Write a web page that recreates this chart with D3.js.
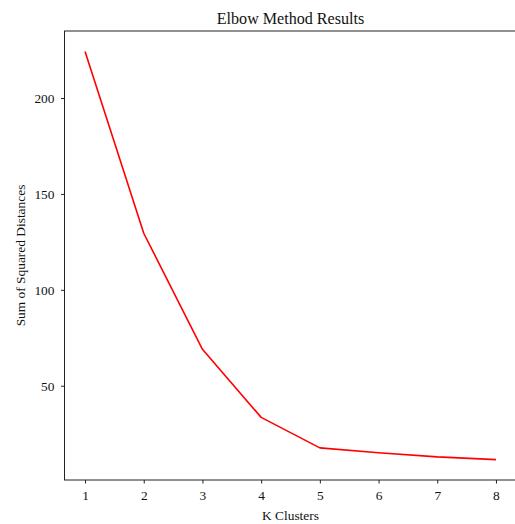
<!DOCTYPE html>
<html>
<head>
<meta charset="utf-8">
<script src="https://cdn.jsdelivr.net/npm/d3@7"></script>
<style>
  html, body { margin: 0; padding: 0; background: #fff; overflow: hidden; }
  svg { display: block; font-family: "Liberation Serif", "Times New Roman", serif; }
</style>
</head>
<body>
<svg id="chart" width="515" height="524"></svg>
<script>
const kValues = [1, 2, 3, 4, 5, 6, 7, 8];
const sseValues = [224.3, 129.5, 69.0, 33.5, 17.6, 15.1, 12.9, 11.5];
const xTickLabels = ["1", "2", "3", "4", "5", "6", "7", "8"];
const yTickValues = [50, 100, 150, 200];

const svg = d3.select("#chart");
const margin = { left: 64.5, top: 31, right: -1.5, bottom: 44 };
const W = 515, H = 524;
const x0 = margin.left, x1 = W - margin.right;
const y0 = margin.top, y1 = H - margin.bottom;

const dMin = d3.min(sseValues), dMax = d3.max(sseValues);
const pad = (dMax - dMin) * 0.05;
const x = d3.scaleLinear().domain([0.65, 8.35]).range([x0, x1]);
const y = d3.scaleLinear().domain([dMin - pad, dMax + pad]).range([y1, y0]);

// frame
svg.append("rect")
  .attr("x", x0).attr("y", y0)
  .attr("width", x1 - x0).attr("height", y1 - y0)
  .attr("fill", "none").attr("stroke", "#222").attr("stroke-width", 1);

// line
const line = d3.line().x((d, i) => x(kValues[i])).y(d => y(d));
svg.append("path")
  .datum(sseValues)
  .attr("d", line)
  .attr("fill", "none")
  .attr("stroke", "#ff0000")
  .attr("stroke-width", 1.6)
  .attr("stroke-linejoin", "round");

const tickFont = 13.4;

// axes
const xAxis = d3.axisBottom(x).tickValues(kValues)
  .tickFormat((d, i) => xTickLabels[i]).tickSizeOuter(0).tickSize(3.5).tickPadding(6.5);
const gx = svg.append("g").attr("transform", `translate(0,${y1})`).call(xAxis);
gx.select(".domain").remove();
gx.selectAll("line").attr("stroke", "#222");
gx.selectAll("text").attr("font-family", "Liberation Serif").attr("font-size", tickFont).attr("fill", "#111");

const yAxis = d3.axisLeft(y).tickValues(yTickValues).tickSizeOuter(0).tickSize(3.5).tickPadding(6.5);
const gy = svg.append("g").attr("transform", `translate(${x0},0)`).call(yAxis);
gy.select(".domain").remove();
gy.selectAll("line").attr("stroke", "#222");
gy.selectAll("text").attr("font-family", "Liberation Serif").attr("font-size", tickFont).attr("fill", "#111");

// title
svg.append("text")
  .attr("x", (x0 + x1) / 2).attr("y", 24)
  .attr("text-anchor", "middle")
  .attr("font-size", 16.1).attr("fill", "#111")
  .text("Elbow Method Results");

// x label
svg.append("text")
  .attr("x", (x0 + x1) / 2).attr("y", 520)
  .attr("text-anchor", "middle")
  .attr("font-size", 13.4).attr("fill", "#111")
  .text("K Clusters");

// y label
svg.append("text")
  .attr("transform", `translate(24.5,${(y0 + y1) / 2}) rotate(-90)`)
  .attr("text-anchor", "middle")
  .attr("font-size", 13.4).attr("fill", "#111")
  .text("Sum of Squared Distances");
</script>
</body>
</html>
